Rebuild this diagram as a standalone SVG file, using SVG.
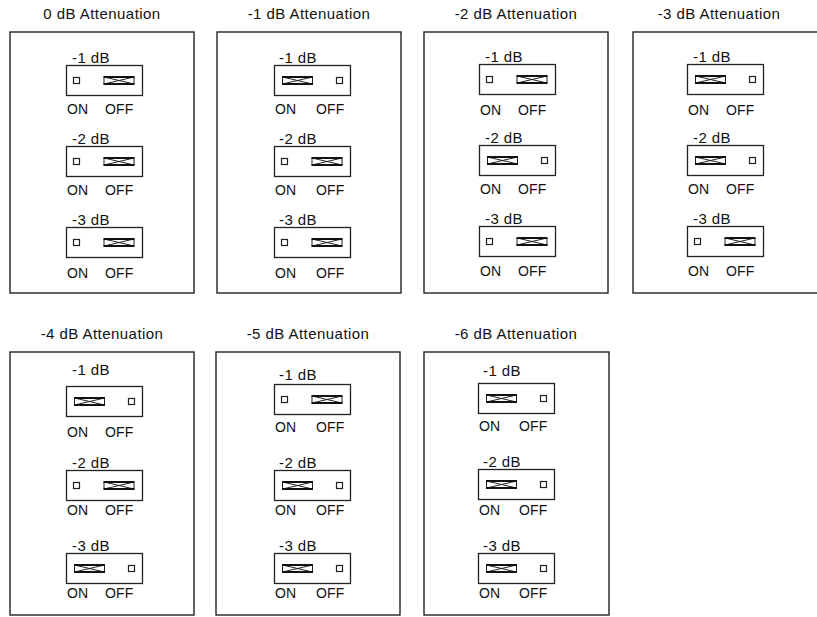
<svg xmlns="http://www.w3.org/2000/svg" xmlns:xlink="http://www.w3.org/1999/xlink" width="817" height="617" viewBox="0 0 817 617">
<style>
text{font-family:"Liberation Sans",Helvetica,Arial,sans-serif;fill:#111;}
.title{font-size:15px;text-anchor:middle;letter-spacing:0.45px;}
.lbl{font-size:14px;letter-spacing:0.2px;}
.db{font-size:15px;letter-spacing:0.4px;}
.box{fill:#fff;stroke:#222;stroke-width:1.4;}
.sw{fill:#fff;stroke:#222;stroke-width:1.3;}
.sq{fill:#fff;stroke:#222;stroke-width:1.2;}
.barx{fill:none;stroke:#222;stroke-width:1;}
.bart{fill:none;stroke:#111;stroke-width:2;}
</style>
<defs>
<g id="sqr"><rect class="sq" x="0.5" y="-3" width="6" height="6"/></g>
<g id="bar">
<path class="barx" d="M0.5,-3.5 V3.5 M30.5,-3.5 V3.5 M0.5,-3.5 L30.5,3.5 M0.5,3.5 L30.5,-3.5"/>
<path class="bart" d="M0,-3.5 H31 M0,3.5 H31"/>
</g>
<g id="swOff">
<rect class="sw" x="0.5" y="0.5" width="76" height="30"/>
<use xlink:href="#sqr" x="7" y="15.5"/>
<use xlink:href="#bar" x="37.5" y="15.5"/>
</g>
<g id="swOn">
<rect class="sw" x="0.5" y="0.5" width="76" height="30"/>
<use xlink:href="#bar" x="8" y="15.5"/>
<use xlink:href="#sqr" x="62" y="15.5"/>
</g>
</defs>

<g id="connectors"></g>

<!-- Panel: 0 dB -->
<g id="panel-0dB">
<text class="title" x="102" y="19">0 dB Attenuation</text>
<rect class="box" x="10" y="32" width="184" height="261"/>
<g id="p0-s1"><text class="db" x="72" y="63">-1 dB</text><use xlink:href="#swOff" x="66" y="65"/><text class="lbl" x="67" y="114">ON</text><text class="lbl" x="105" y="114">OFF</text></g>
<g id="p0-s2"><text class="db" x="72" y="144">-2 dB</text><use xlink:href="#swOff" x="66" y="146"/><text class="lbl" x="67" y="195">ON</text><text class="lbl" x="105" y="195">OFF</text></g>
<g id="p0-s3"><text class="db" x="72" y="225">-3 dB</text><use xlink:href="#swOff" x="66" y="227"/><text class="lbl" x="67" y="278">ON</text><text class="lbl" x="105" y="278">OFF</text></g>
</g>

<!-- Panel: -1 dB -->
<g id="panel-1dB">
<text class="title" x="309" y="19">-1 dB Attenuation</text>
<rect class="box" x="217" y="32" width="184" height="261"/>
<g id="p1-s1"><text class="db" x="279" y="63">-1 dB</text><use xlink:href="#swOn" x="274" y="65"/><text class="lbl" x="275" y="114">ON</text><text class="lbl" x="316" y="114">OFF</text></g>
<g id="p1-s2"><text class="db" x="279" y="144">-2 dB</text><use xlink:href="#swOff" x="274" y="146"/><text class="lbl" x="275" y="195">ON</text><text class="lbl" x="316" y="195">OFF</text></g>
<g id="p1-s3"><text class="db" x="279" y="225">-3 dB</text><use xlink:href="#swOff" x="274" y="227"/><text class="lbl" x="275" y="278">ON</text><text class="lbl" x="316" y="278">OFF</text></g>
</g>

<!-- Panel: -2 dB -->
<g id="panel-2dB">
<text class="title" x="516" y="19">-2 dB Attenuation</text>
<rect class="box" x="424" y="32" width="184" height="261"/>
<g id="p2-s1"><text class="db" x="485" y="62">-1 dB</text><use xlink:href="#swOff" x="479" y="64"/><text class="lbl" x="480" y="115">ON</text><text class="lbl" x="518" y="115">OFF</text></g>
<g id="p2-s2"><text class="db" x="485" y="143">-2 dB</text><use xlink:href="#swOn" x="479" y="145"/><text class="lbl" x="480" y="194">ON</text><text class="lbl" x="518" y="194">OFF</text></g>
<g id="p2-s3"><text class="db" x="485" y="224">-3 dB</text><use xlink:href="#swOff" x="479" y="226"/><text class="lbl" x="480" y="276">ON</text><text class="lbl" x="518" y="276">OFF</text></g>
</g>

<!-- Panel: -3 dB -->
<g id="panel-3dB">
<text class="title" x="719" y="19">-3 dB Attenuation</text>
<rect class="box" x="633" y="32" width="200" height="261"/>
<g id="p3-s1"><text class="db" x="693" y="62">-1 dB</text><use xlink:href="#swOn" x="687" y="64"/><text class="lbl" x="688" y="115">ON</text><text class="lbl" x="726" y="115">OFF</text></g>
<g id="p3-s2"><text class="db" x="693" y="143">-2 dB</text><use xlink:href="#swOn" x="687" y="145"/><text class="lbl" x="688" y="194">ON</text><text class="lbl" x="726" y="194">OFF</text></g>
<g id="p3-s3"><text class="db" x="693" y="224">-3 dB</text><use xlink:href="#swOff" x="687" y="226"/><text class="lbl" x="688" y="276">ON</text><text class="lbl" x="726" y="276">OFF</text></g>
</g>

<!-- Panel: -4 dB -->
<g id="panel-4dB">
<text class="title" x="102" y="339">-4 dB Attenuation</text>
<rect class="box" x="10" y="352" width="184" height="263"/>
<g id="p4-s1"><text class="db" x="72" y="375">-1 dB</text><use xlink:href="#swOn" x="66" y="386"/><text class="lbl" x="67" y="437">ON</text><text class="lbl" x="105" y="437">OFF</text></g>
<g id="p4-s2"><text class="db" x="72" y="468">-2 dB</text><use xlink:href="#swOff" x="66" y="470"/><text class="lbl" x="67" y="515">ON</text><text class="lbl" x="105" y="515">OFF</text></g>
<g id="p4-s3"><text class="db" x="72" y="551">-3 dB</text><use xlink:href="#swOn" x="66" y="553"/><text class="lbl" x="67" y="598">ON</text><text class="lbl" x="105" y="598">OFF</text></g>
</g>

<!-- Panel: -5 dB -->
<g id="panel-5dB">
<text class="title" x="308" y="339">-5 dB Attenuation</text>
<rect class="box" x="216" y="352" width="184" height="263"/>
<g id="p5-s1"><text class="db" x="279" y="380">-1 dB</text><use xlink:href="#swOff" x="274" y="384"/><text class="lbl" x="275" y="432">ON</text><text class="lbl" x="316" y="432">OFF</text></g>
<g id="p5-s2"><text class="db" x="279" y="468">-2 dB</text><use xlink:href="#swOn" x="274" y="470"/><text class="lbl" x="275" y="515">ON</text><text class="lbl" x="316" y="515">OFF</text></g>
<g id="p5-s3"><text class="db" x="279" y="551">-3 dB</text><use xlink:href="#swOn" x="274" y="553"/><text class="lbl" x="275" y="598">ON</text><text class="lbl" x="316" y="598">OFF</text></g>
</g>

<!-- Panel: -6 dB -->
<g id="panel-6dB">
<text class="title" x="516" y="339">-6 dB Attenuation</text>
<rect class="box" x="424" y="352" width="185" height="263"/>
<g id="p6-s1"><text class="db" x="483" y="376">-1 dB</text><use xlink:href="#swOn" x="478" y="383"/><text class="lbl" x="479" y="431">ON</text><text class="lbl" x="519" y="431">OFF</text></g>
<g id="p6-s2"><text class="db" x="483" y="467">-2 dB</text><use xlink:href="#swOn" x="478" y="469"/><text class="lbl" x="479" y="515">ON</text><text class="lbl" x="519" y="515">OFF</text></g>
<g id="p6-s3"><text class="db" x="483" y="551">-3 dB</text><use xlink:href="#swOn" x="478" y="553"/><text class="lbl" x="479" y="598">ON</text><text class="lbl" x="519" y="598">OFF</text></g>
</g>
</svg>
